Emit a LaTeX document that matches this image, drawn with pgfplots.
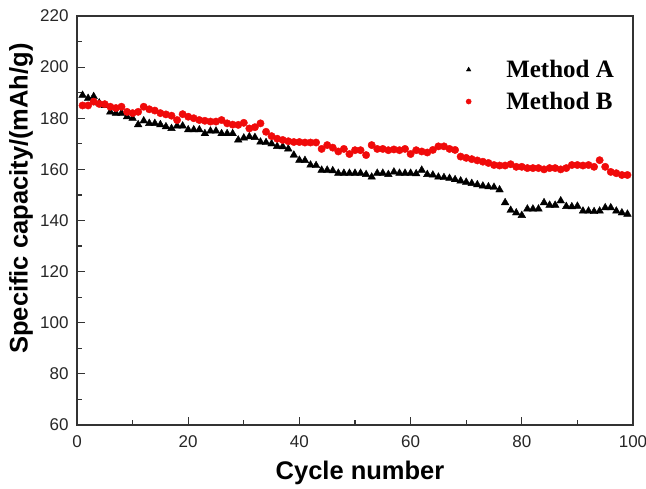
\documentclass[border=0pt]{standalone}
\usepackage{pgfplots}
\pgfplotsset{compat=1.18}
\usepackage{fontspec}
\setmainfont{Liberation Sans}
\newfontfamily\serifb{Liberation Serif}
\definecolor{mred}{RGB}{240,10,10}
\pgfplotstableread{
x A B
1 189 185
2 187.8 185
3 188.5 186.5
4 186 185.6
5 185 185.5
6 182.5 184.5
7 182 184
8 182 184.5
9 180.6 182.5
10 180 182
11 177.5 182.5
12 179 184.5
13 178 183.5
14 178 183
15 177.5 182
16 176.7 181.5
17 176 181
18 177 179.3
19 177 181.6
20 175.5 180.6
21 175.5 180
22 175.5 179.3
23 174 179
24 175 178.7
25 175 178.7
26 174 179.3
27 174 178
28 174 177.5
29 171.5 177.4
30 172.3 178.2
31 172.8 176
32 172.5 176.5
33 170.7 178
34 170.5 174.7
35 170 173
36 169 172
37 168.9 171.5
38 168 171
39 165.6 170.7
40 163.6 170.7
41 163.5 170.5
42 161.7 170.5
43 161.5 170.5
44 159.7 168
45 159.7 169.5
46 159.5 168.5
47 158.5 167
48 158.5 168
49 158.5 166
50 158.5 167.5
51 158.5 167.5
52 158 165.6
53 157 169.5
54 158.5 168
55 158.5 168
56 158 167.5
57 159 167.8
58 158.5 167.5
59 158.5 168
60 158.5 166
61 158.3 167.5
62 159.7 167
63 158 166.6
64 157.8 167.6
65 157 169
66 156.8 169
67 156.5 168
68 156 167.6
69 155.5 165
70 155 164.5
71 154.5 164
72 154 163.5
73 153.5 163
74 153.2 162.5
75 153 161.7
76 152 161.5
77 147 161.5
78 144 162
79 143 161
80 142 161
81 144.5 160.5
82 144.5 160.5
83 144.5 160.5
84 147 160
85 146 160.5
86 146 160.5
87 147.7 160
88 145.5 160.5
89 145.4 161.7
90 145.6 161.7
91 143.7 161.5
92 143.7 161.7
93 143.5 161
94 143.7 163.6
95 145 161
96 145 159
97 143.7 158.5
98 143 157.8
99 142.5 157.8
}\data
\begin{document}
\begin{tikzpicture}
\path[use as bounding box] (-77pt,-64pt) rectangle (569pt,425pt);
\begin{axis}[
  scale only axis,
  width=556pt, height=409pt,
  xmin=0, xmax=100, ymin=60, ymax=220,
  xtick={0,20,...,100}, ytick={60,80,...,220},
  minor xtick={10,30,...,90}, minor ytick={70,90,...,210},
  xtick pos=left, ytick pos=left,
  tick align=inside,
  major tick length=8pt, minor tick length=5pt,
  axis line style={line width=1.2pt, black!80},
  every tick/.style={line width=1.2pt, black!80},
  /pgf/number format/assume math mode=true,
  ticklabel style={font=\fontsize{17}{17}\selectfont, text=black!85},
  xticklabel style={yshift=-7pt},
  yticklabel style={xshift=-5pt},
  xlabel={\bfseries Cycle number},
  ylabel={\bfseries Specific capacity/(mAh/g)},
  label style={font=\fontsize{25.5}{25.5}\selectfont},
  xlabel style={at={(axis description cs:0.5,0)}, anchor=base, yshift=-55pt, xshift=5pt},
  ylabel style={at={(axis description cs:0,0.5)}, anchor=center, yshift=56pt, xshift=22pt},
  legend style={draw=none, fill=none, at={(0.975,0.902)}, anchor=north east,
    font=\serifb\bfseries\fontsize{25}{25}\selectfont, row sep=9pt},
  legend cell align=left,
  legend image code/.code={\draw[#1, mark size=2.6pt] plot coordinates {(0.3cm,0cm)};},
]
\addplot[only marks, mark=triangle*, mark size=4.4pt, black] table[x=x,y=A]{\data};
\addlegendentry{\hspace{33pt}Method A}
\addplot[only marks, mark=*, mark size=3.7pt, mred, mark options={draw=mred, fill=mred}] table[x=x,y=B]{\data};
\addlegendentry{\hspace{33pt}Method B}
\end{axis}
\end{tikzpicture}
\end{document}
